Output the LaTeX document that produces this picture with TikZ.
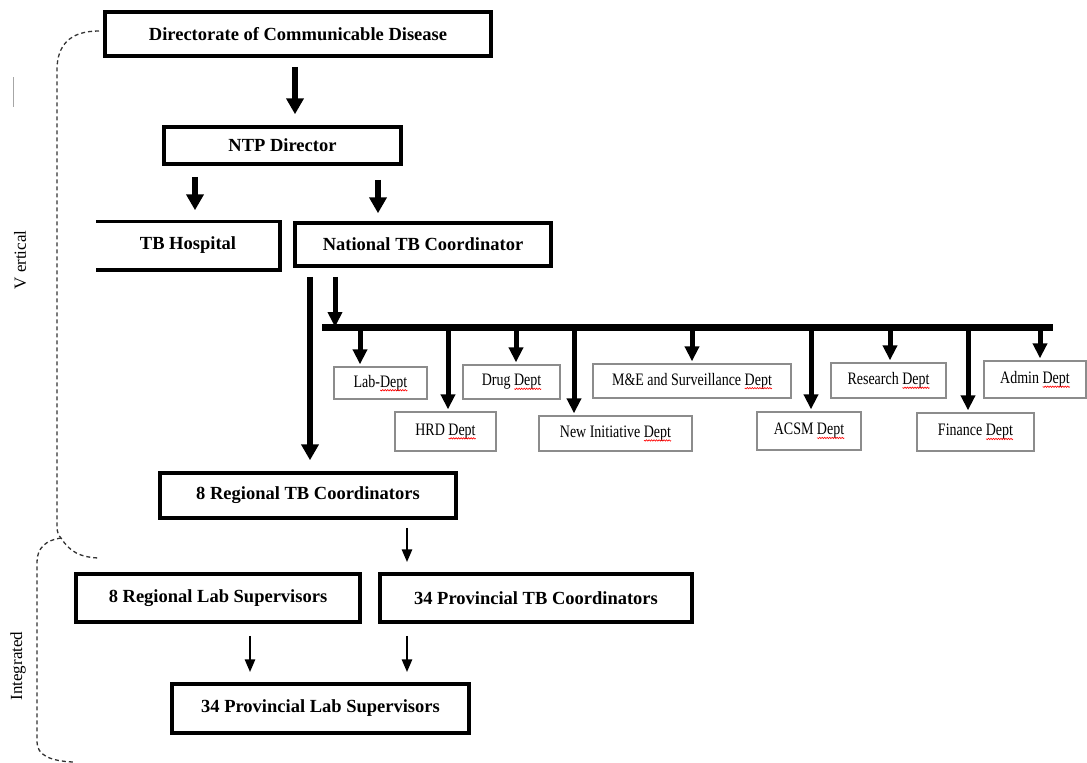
\documentclass[tikz,border=0pt]{standalone}
\usepackage{fontspec}
\setmainfont{Liberation Serif}
\newfontfamily\deptfont{Liberation Serif}[FakeStretch=0.8]
\usetikzlibrary{arrows.meta, positioning, decorations.pathmorphing}
\newlength{\typolen}
\newcommand{\typo}[1]{\settowidth{\typolen}{#1}#1\tikz[overlay, x=1pt, y=1pt]
  \draw[red, line width=0.6pt, decorate,
        decoration={snake, amplitude=0.7pt, segment length=2.5pt}]
        (0pt,-3pt) -- ++(-\typolen,0pt);}
\tikzset{
  headbox/.style={rectangle, draw, line width=3.5pt, inner sep=0pt,
                  font=\fontsize{18.5}{20}\selectfont\bfseries},
  deptbox/.style={rectangle, draw=black!45, line width=1.3pt, inner sep=0pt,
                  font=\deptfont\fontsize{17.5}{19}\selectfont},
  fatarrow/.style={-{Triangle[width=17pt,length=16pt]}, line width=5.5pt},
  deptarrow/.style={-{Triangle[width=14pt,length=15pt]}, line width=5pt},
  thinarrow/.style={-{Triangle[width=10pt,length=13pt]}, line width=2.8pt},
  bus/.style={line width=7pt},
  brace/.style={black!80, line width=1.3pt, dash pattern=on 4pt off 3pt},
  sidelabel/.style={rotate=90, font=\fontsize{17}{19}\selectfont},
}
\begin{document}
\begin{tikzpicture}[x=1pt, y=-1pt]
  \useasboundingbox (0,0) rectangle (1087,763);

  %% ── TOP OF THE CHAIN ─────────────────────────────────────────────
  \node[headbox, minimum width=386pt, minimum height=44pt] (dcd) at (298,34)
        {Directorate of Communicable Disease};
  \node[headbox, minimum width=237pt, minimum height=37pt] (ntp) at (282.5,145.5)
        {NTP Director};
  \node[headbox, draw=none, minimum width=180pt, minimum height=45pt] (hosp) at (188,245.5)
        {TB Hospital\hspace{16pt}};
  \draw[line width=3.5pt] (hosp.north west) -| (hosp.south east) -- (hosp.south west);
  \node[headbox, minimum width=256pt, minimum height=43pt] (ntc) at (423,244.5)
        {National TB Coordinator};

  \draw[fatarrow, shorten <=9pt, shorten >=11pt] (295,0 |- dcd.south) -- (295,0 |- ntp.north);
  \draw[fatarrow, shorten <=11pt, shorten >=11pt] (195,0 |- ntp.south) -- (195,0 |- hosp.north);
  \draw[fatarrow, shorten <=14pt, shorten >=8pt] (378,0 |- ntp.south) -- (378,0 |- ntc.north);

  %% ── DEPARTMENTS ──────────────────────────────────────────────────
  \coordinate (busL) at (322,327);
  \coordinate (busR) at (1053,327);
  \draw[bus] (busL) -- (busR);
  \draw[deptarrow, shorten <=9pt] (335,0 |- ntc.south) -- (335,0 |- busL);

  \node[deptbox, minimum width=93pt,  minimum height=32pt] (lab)  at (380.5,383)   {Lab-\typo{Dept}};
  \node[deptbox, minimum width=101pt, minimum height=39pt] (hrd)  at (445.5,431.5) {HRD \typo{Dept}};
  \node[deptbox, minimum width=97pt,  minimum height=34pt] (drug) at (511.5,382)   {Drug \typo{Dept}};
  \node[deptbox, minimum width=153pt, minimum height=35pt] (newi) at (615.5,433.5) {New Initiative \typo{Dept}};
  \node[deptbox, minimum width=198pt, minimum height=34pt] (mne)  at (692,381)     {M\&E and Surveillance \typo{Dept}};
  \node[deptbox, minimum width=104pt, minimum height=38pt] (acsm) at (809,431)     {ACSM \typo{Dept}};
  \node[deptbox, minimum width=115pt, minimum height=35pt] (res)  at (888.5,380.5) {Research \typo{Dept}};
  \node[deptbox, minimum width=117pt, minimum height=38pt] (fin)  at (975.5,432)   {Finance \typo{Dept}};
  \node[deptbox, minimum width=102pt, minimum height=37pt] (adm)  at (1035,379.5)  {Admin \typo{Dept}};

  \foreach \d/\x in {lab/360, hrd/448, drug/516, newi/574, mne/692,
                     acsm/811, res/890, fin/968, adm/1040}{
    \draw[deptarrow, shorten >=2pt] (\x,0 |- busL) -- (\x,0 |- \d.north);
  }

  %% ── REGIONS AND PROVINCES ────────────────────────────────────────
  \node[headbox, minimum width=296pt, minimum height=45pt] (rtc) at (308,495.5)
        {8 Regional TB Coordinators};
  \node[headbox, minimum width=284pt, minimum height=48pt] (rls) at (218,598)
        {8 Regional Lab Supervisors};
  \node[headbox, minimum width=312pt, minimum height=48pt] (ptc) at (536,598)
        {34 Provincial TB Coordinators};
  \node[headbox, minimum width=297pt, minimum height=49pt] (pls) at (320.5,708.5)
        {34 Provincial Lab Supervisors};

  \draw[fatarrow, shorten <=9pt, shorten >=11pt] (310,0 |- ntc.south) -- (310,0 |- rtc.north);
  \draw[thinarrow, shorten <=8pt, shorten >=10pt] (407,0 |- rtc.south) -- (407,0 |- ptc.north);
  \draw[thinarrow, shorten <=12pt, shorten >=10pt] (250,0 |- rls.south) -- (250,0 |- pls.north);
  \draw[thinarrow, shorten <=12pt, shorten >=10pt] (407,0 |- ptc.south) -- (407,0 |- pls.north);

  %% ── SIDE BRACES ──────────────────────────────────────────────────
  \draw[brace] (99,31) .. controls (70,31) and (57,45) .. (57,70) -- (57,526)
        .. controls (57,533) and (59,536) .. (61,538)
        .. controls (70,552) and (80,557) .. (98,558);
  \draw[brace] (61,538) .. controls (46,540) and (37,548) .. (37,562) -- (37,742)
        .. controls (37,755) and (50,761) .. (73,762);
  \draw[black!35, line width=1pt] (13,77) -- (13,107);
  \node[sidelabel] (vert)  at (20,260) {V ertical};
  \node[sidelabel] (integ) at (18,666) {Integrated};

\end{tikzpicture}
\end{document}
